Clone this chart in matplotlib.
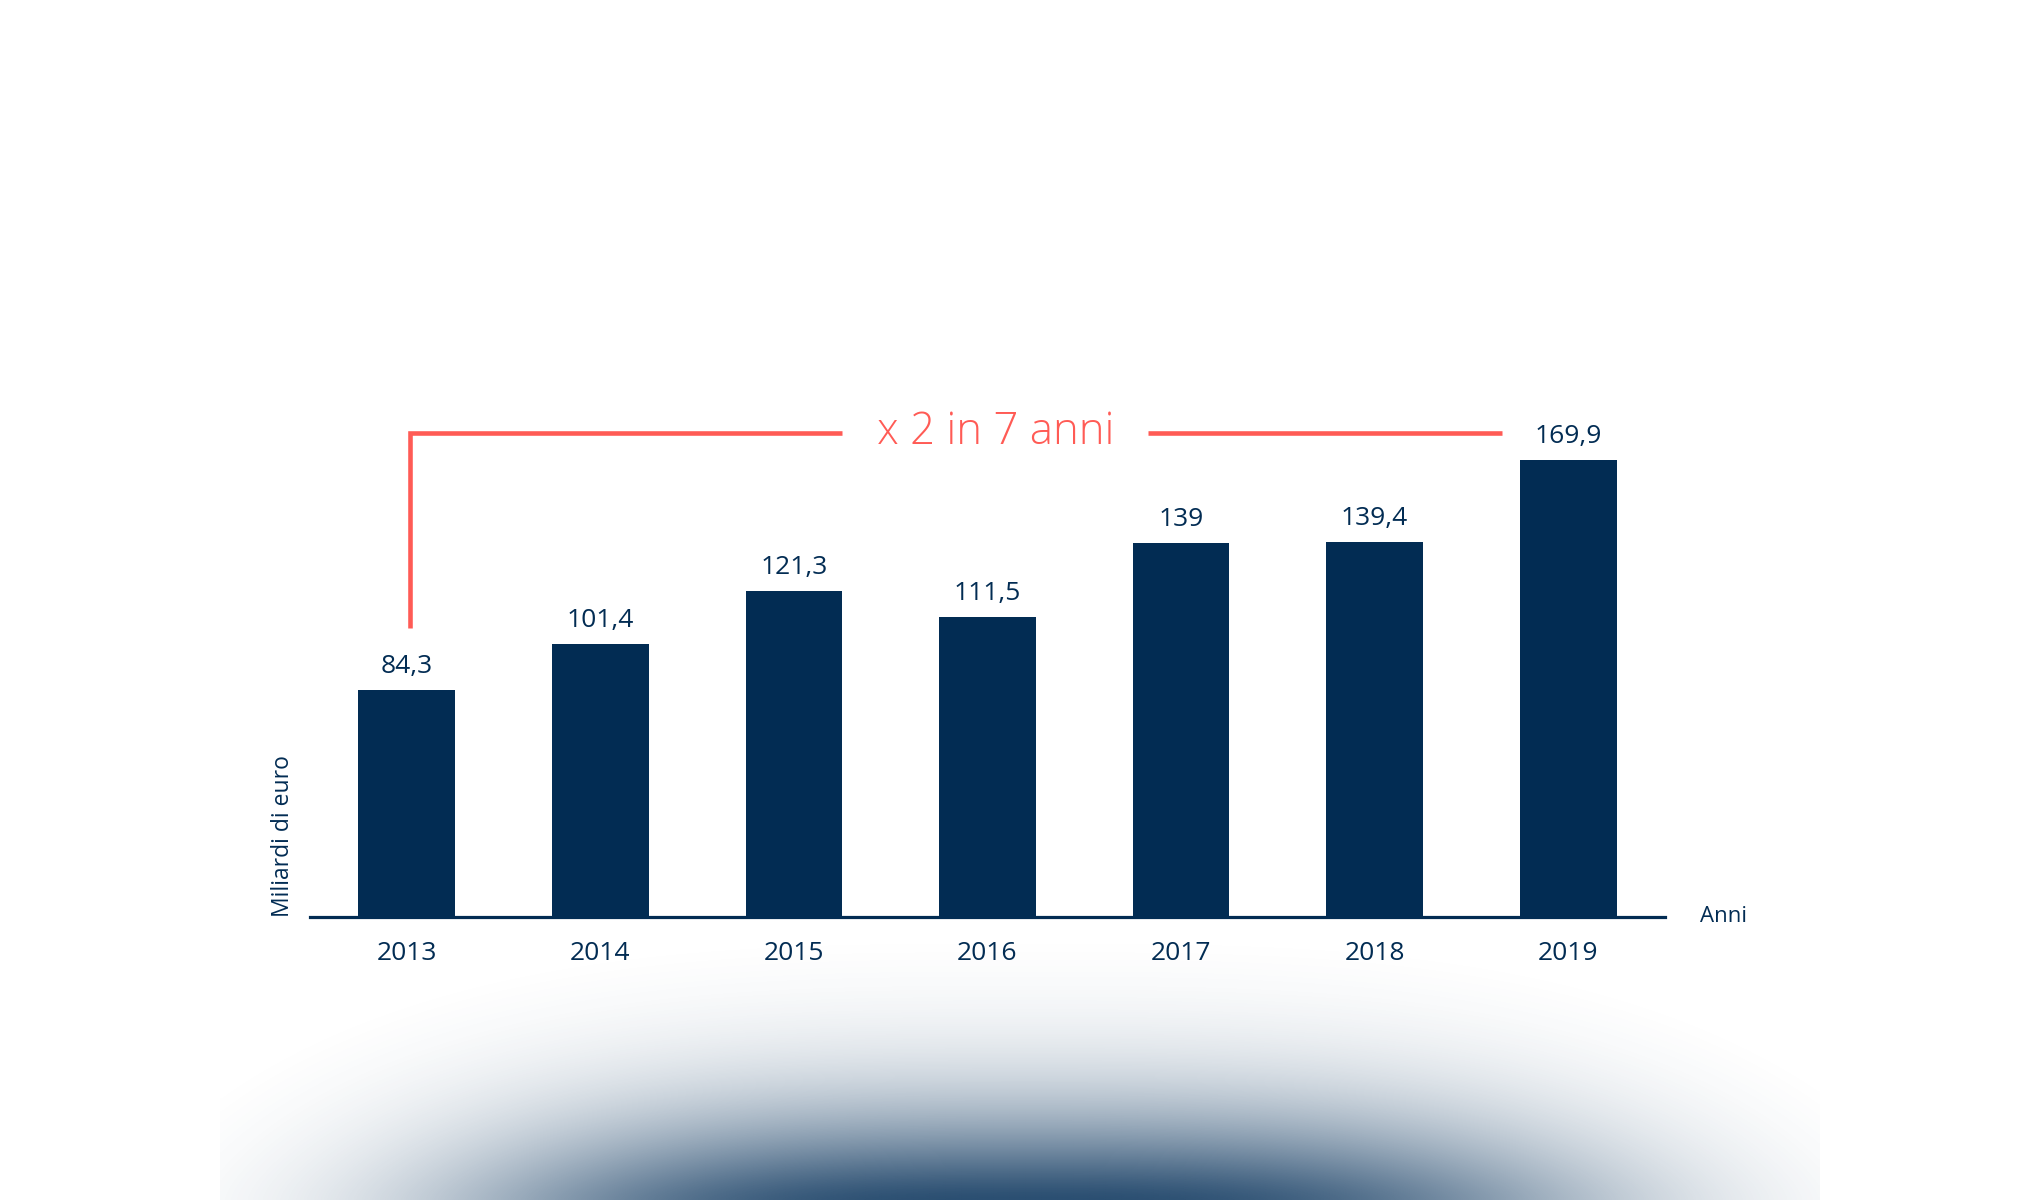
import numpy as np
import matplotlib
matplotlib.use("Agg")
import matplotlib.pyplot as plt

plt.rcParams['font.family'] = ['Open Sans', 'DejaVu Sans']

# data
anni = ['2013', '2014', '2015', '2016', '2017', '2018', '2019']
valori = [84.3, 101.4, 121.3, 111.5, 139, 139.4, 169.9]
etichette = ['84,3', '101,4', '121,3', '111,5', '139', '139,4', '169,9']

navy = '#022c53'
red = '#ff5b55'
W, H = 2040, 1200

fig = plt.figure(figsize=(W / 100, H / 100), dpi=100)

# soft glow at the bottom
bg = fig.add_axes([0, 0, 1, 1], zorder=0)
bg.set_xlim(0, W)
bg.set_ylim(H, 0)
bg.axis('off')
gx, gy = np.meshgrid(np.linspace(220, 1820, 500), np.linspace(880, 1200, 160))
dx = np.abs(gx - 1025)
dy = np.clip(1200 - gy, 0, None)
a = np.exp(-(dy / 96) ** 1.4 - (dx / 565) ** 3)
a = np.clip((a - 0.015) / 0.985, 0, 1)
img = np.zeros(gx.shape + (4,))
img[..., 0], img[..., 1], img[..., 2] = 0x2a / 255, 0x4e / 255, 0x71 / 255
img[..., 3] = a
bg.imshow(img, extent=(220, 1820, 1200, 880), aspect='auto', interpolation='bilinear')

# main axes: y=0 at 917px, 2.69 px per unit
ax = fig.add_axes([310 / W, 283 / H, 1355 / W, 617 / H], zorder=1)
ax.patch.set_alpha(0)
x = np.arange(len(anni))
ax.bar(x, valori, width=0.5, color=navy)
ax.set_xlim(-0.5, 6.5)
ax.set_ylim(0, 617 / 2.69)
for s in ['top', 'right', 'left']:
    ax.spines[s].set_visible(False)
ax.spines['bottom'].set_color(navy)
ax.spines['bottom'].set_linewidth(2.3)
ax.set_yticks([])
ax.set_xticks(x)
ax.set_xticklabels(anni, fontsize=19, color=navy)
ax.tick_params(axis='x', length=0, pad=17)

for xi, v, lab in zip(x, valori, etichette):
    ax.annotate(lab, (xi, v), xytext=(0, 11), textcoords='offset pixels',
                ha='center', va='bottom', fontsize=19, color=navy)

# bracket "x 2 in 7 anni"
ytop = 180
ax.plot([0.015, 0.015, 2.25], [107.4, ytop, ytop], color=red, lw=3.3,
        solid_joinstyle='miter', solid_capstyle='butt', clip_on=False)
ax.plot([3.83, 5.66], [ytop, ytop], color=red, lw=3.3,
        solid_capstyle='butt', clip_on=False)
ax.text(3.04, ytop, 'x 2 in 7 anni', ha='center', va='center', fontsize=31.5,
        color=red, fontweight='light')

fig.text(283 / W, 1 - 917 / H, 'Miliardi di euro', rotation=90, ha='center',
         va='bottom', fontsize=16.5, color=navy)
fig.text(1700 / W, 1 - 917 / H, 'Anni', ha='left', va='center', fontsize=16,
         color=navy)

fig.savefig('out.png', dpi=100, facecolor='white')
